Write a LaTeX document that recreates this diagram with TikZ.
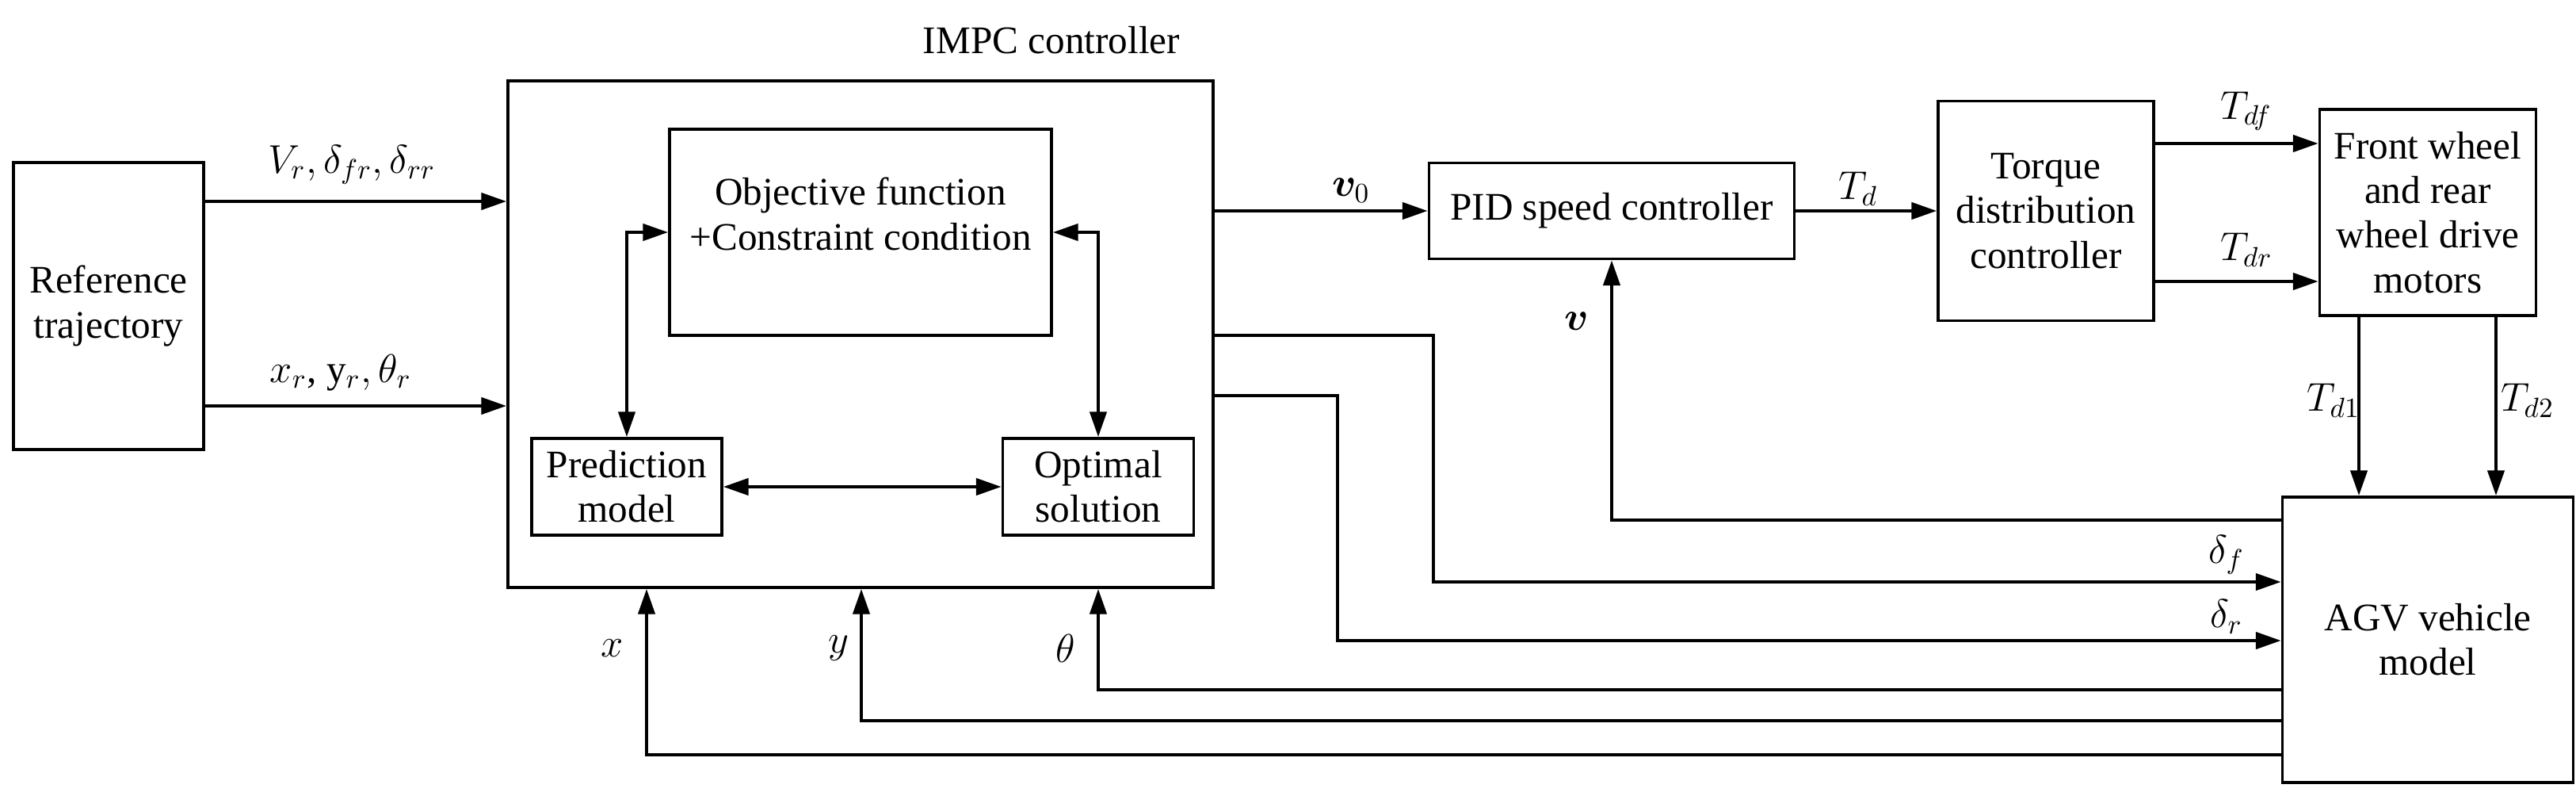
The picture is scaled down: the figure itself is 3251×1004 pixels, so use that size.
\documentclass[tikz,border=0pt]{standalone}
\usepackage{amsmath,amssymb,bm}
\usepackage{fontspec}
\setmainfont{Liberation Serif}
\usetikzlibrary{arrows.meta,calc}
\begin{document}
\begin{tikzpicture}[x=0.01cm,y=-0.01cm,
  font=\fontsize{14}{16}\selectfont,
  box/.style 2 args={draw,line width=1.1pt,rectangle,align=center,inner sep=2pt,minimum width=#1*0.01cm,minimum height=#2*0.01cm},
  ar/.style={line width=1.1pt,-{Triangle[length=9pt,width=6pt]}},
  dar/.style={line width=1.1pt,{Triangle[length=9pt,width=6pt]}-{Triangle[length=9pt,width=6pt]}},
  ln/.style={line width=1.1pt},
  lab/.style={inner sep=0pt}]
\useasboundingbox (0,0) rectangle (3251,1004);
\node[box={240}{362}] (ref) at (137,386) {Reference\\trajectory};
\node[box={890}{639}] (impc) at (1086,421.5) {};
\node[lab] (impcl) at (1327,51) {IMPC controller};
\node[box={482}{260}] (obj) at (1086,293) {};
\node[lab,align=center] (objt) at (1086,270) {Objective function\\+Constraint condition};
\node[box={240}{122}] (pred) at (791,614) {Prediction\\model};
\node[box={241}{122}] (opt) at (1386,614) {Optimal\\solution};
\node[box={461}{121}] (pid) at (2034,266) {PID speed controller};
\node[box={272}{277}] (tor) at (2582,266) {Torque\\distribution\\controller};
\node[box={273}{260}] (fr) at (3064,268) {Front wheel\\and rear\\wheel drive\\motors};
\node[box={367}{360}] (agv) at (3064,807) {AGV vehicle\\model};

\draw[ar] (ref.east |- 0,254) -- (impc.west |- 0,254);
\draw[ar] (ref.east |- 0,512) -- (impc.west |- 0,512);
\node[lab] (l1) at (444,208) {$V_r,\delta_{fr},\delta_{rr}$};
\node[lab] (l2) at (430,470) {$x_r$, y$_r,\theta_r$};

\draw[dar] (obj.west) -| (pred.north);
\draw[dar] (obj.east) -| (opt.north);
\draw[dar] (pred.east) -- (opt.west);

\draw[ar] (impc.east |- pid.west) -- (pid.west);
\node[lab] (lv0) at (1705,240) {\Large$\bm{v}_0$};
\draw[ar] (pid.east) -- (tor.west);
\node[lab] (ltd) at (2345,238) {$T_d$};
\draw[ar] (tor.east |- 0,181) -- (fr.west |- 0,181);
\draw[ar] (tor.east |- 0,355) -- (fr.west |- 0,355);
\node[lab] (ltdf) at (2835,140) {$T_{df}$};
\node[lab] (ltdr) at (2835,315) {$T_{dr}$};
\draw[ar] (fr.south -| 2977,0) -- (agv.north -| 2977,0);
\draw[ar] (fr.south -| 3150,0) -- (agv.north -| 3150,0);
\node[lab] (ltd1) at (2945,505) {$T_{d1}$};
\node[lab] (ltd2) at (3190,505) {$T_{d2}$};

\draw[ar] (agv.west |- 0,656) -| (pid.south);
\node[lab] (lv) at (1990,405) {\Large$\bm{v}$};

\coordinate (df1) at (1809,423);
\coordinate (dr1) at (1688,499);
\draw[ar] (impc.east |- df1) -- (df1) |- (agv.west |- 0,734);
\draw[ar] (impc.east |- dr1) -- (dr1) |- (agv.west |- 0,808);
\node[lab] (ldf) at (2810,700) {$\delta_f$};
\node[lab] (ldr) at (2810,778) {$\delta_r$};

\draw[ar] (agv.west |- 0,870) -| (impc.south -| 1386,0);
\draw[ar] (agv.west |- 0,909) -| (impc.south -| 1087,0);
\draw[ar] (agv.west |- 0,952) -| (impc.south -| 816,0);
\node[lab] (lth) at (1345,818) {$\theta$};
\node[lab] (ly) at (1058,818) {$y$};
\node[lab] (lx) at (773,818) {$x$};
\end{tikzpicture}
\end{document}
